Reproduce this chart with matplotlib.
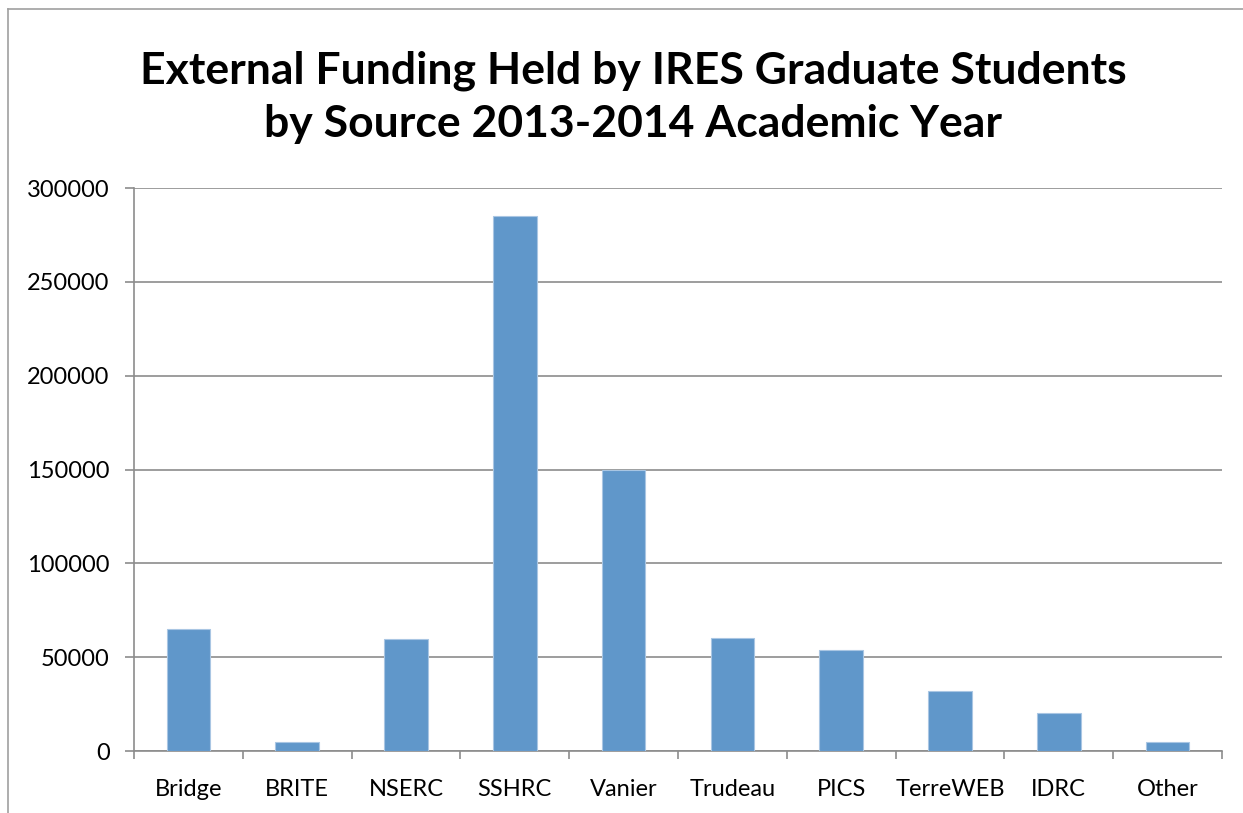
import matplotlib
matplotlib.use("Agg")
import matplotlib.pyplot as plt
from matplotlib.lines import Line2D

categories = ["Bridge", "BRITE", "NSERC", "SSHRC", "Vanier", "Trudeau", "PICS", "TerreWEB", "IDRC", "Other"]
values = [65000, 5000, 59700, 285000, 150000, 60000, 54000, 32000, 20000, 5000]
yticks = [0, 50000, 100000, 150000, 200000, 250000, 300000]
title = "External Funding Held by IRES Graduate Students\nby Source 2013-2014 Academic Year"

W, H = 1243, 813
fig = plt.figure(figsize=(W / 100, H / 100), dpi=100)
plt.rcParams['font.family'] = ['Lato', 'DejaVu Sans']

ax = fig.add_axes([134 / W, (H - 751) / H, (1222 - 134) / W, (751 - 188) / H])
x = list(range(len(categories)))
ax.bar(x, values, width=0.4, color="#6097CA", edgecolor="#A9C6E3", linewidth=0.8, zorder=3)
ax.set_xlim(-0.5, len(categories) - 0.5)
ax.set_ylim(0, 300000)
ax.set_yticks(yticks)
ax.set_yticklabels([str(v) for v in yticks], fontsize=17)
ax.set_xticks(x)
ax.set_xticklabels(categories, fontsize=17)
ax.tick_params(axis='x', length=0, pad=20)
ax.tick_params(axis='y', length=6.5, width=1.2, color="#8C8C8C", pad=11)
# minor ticks at category boundaries
ax.set_xticks([i - 0.5 for i in range(len(categories) + 1)], minor=True)
ax.tick_params(axis='x', which='minor', length=6, width=1.2, color="#8C8C8C")
ax.grid(axis='y', color="#8C8C8C", linewidth=1.2, zorder=0)
for s in ["top", "right"]:
    ax.spines[s].set_visible(False)
for s in ["left", "bottom"]:
    ax.spines[s].set_color("#8C8C8C")
    ax.spines[s].set_linewidth(1.2)

fig.text(633 / W, 1 - 97 / H, title, ha='center', va='center', fontsize=32,
         fontweight='bold', linespacing=1.4)

# outer chart frame (left and top edges visible)
fig.add_artist(Line2D([8 / W, 8 / W], [0, 1 - 9 / H], transform=fig.transFigure, color="#A0A0A0", linewidth=1.2))
fig.add_artist(Line2D([8 / W, 1], [1 - 9 / H, 1 - 9 / H], transform=fig.transFigure, color="#A0A0A0", linewidth=1.2))

fig.savefig("out.png", dpi=100)
